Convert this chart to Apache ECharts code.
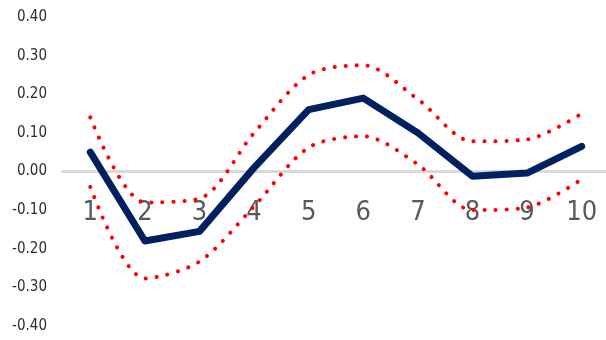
<!DOCTYPE html>
<html><head><meta charset="utf-8">
<script src="https://cdn.jsdelivr.net/npm/echarts@6/dist/echarts.min.js"></script>
<style>html,body{margin:0;padding:0;background:#fff}#c{width:606px;height:340px}</style>
</head><body><div id="c"></div>
<script>
const categories = ['1','2','3','4','5','6','7','8','9','10'];
const mainValues = [0.05, -0.18, -0.155, 0.01, 0.16, 0.19, 0.10, -0.012, -0.004, 0.065];
const upperValues = [0.14, -0.08, -0.07, 0.10, 0.25, 0.275, 0.187, 0.078, 0.083, 0.15];
const lowerValues = [-0.04, -0.277, -0.233, -0.09, 0.062, 0.091, 0.018, -0.10, -0.093, -0.02];
const yMin = -0.4, yMax = 0.4, yStep = 0.1;

const gridTop = 17, gridBottom = 14, H = 340;
const plotH = H - gridTop - gridBottom;
const zeroOffset = -plotH * (0 - yMin) / (yMax - yMin);

const chart = echarts.init(document.getElementById('c'), null, {renderer:'canvas'});
const dotted = {color:'#ff0000', width:4, type:[0.1, 10.9], cap:'round', join:'round'};
const fam = '"DejaVu Sans Condensed", Roboto, sans-serif';
chart.setOption({
  animation:false,
  grid:{left:63, right:-3, top:gridTop, bottom:gridBottom, containLabel:false, outerBoundsMode:'none'},
  xAxis:{
    type:'category', data:categories, boundaryGap:true, position:'bottom', offset:zeroOffset,
    axisLine:{onZero:false, lineStyle:{color:'#d9d9d9', width:3}},
    axisTick:{show:false},
    axisLabel:{color:'#595959', fontFamily:fam, fontSize:27, margin:28}
  },
  yAxis:{
    type:'value', min:yMin, max:yMax, interval:yStep,
    axisLine:{show:false}, axisTick:{show:false}, splitLine:{show:false},
    axisLabel:{color:'#2b2b2b', fontFamily:fam, fontSize:15, margin:16,
      formatter:v=>v.toFixed(2)}
  },
  series:[
    {type:'line', data:upperValues, smooth:0.3, symbol:'none', lineStyle:dotted, z:2},
    {type:'line', data:lowerValues, smooth:0.3, symbol:'none', lineStyle:dotted, z:2},
    {type:'line', data:mainValues, symbol:'none', lineStyle:{color:'#002060', width:7, cap:'round', join:'round'}, z:3}
  ]
});
</script></body></html>
